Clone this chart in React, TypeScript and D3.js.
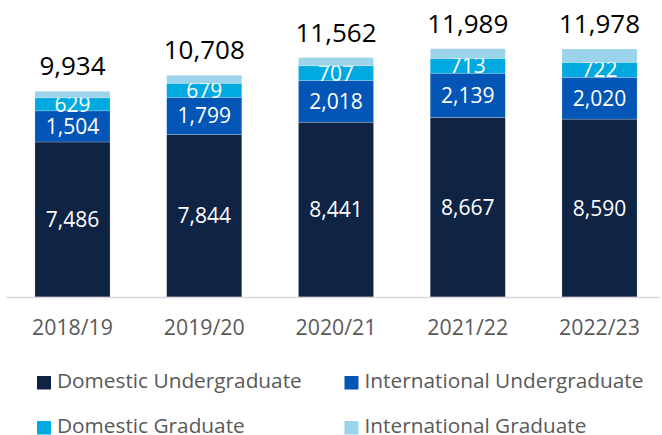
import React from "react";
import * as d3 from "d3";

const categories = ["2018/19", "2019/20", "2020/21", "2021/22", "2022/23"];
const seriesNames = ["Domestic Undergraduate", "International Undergraduate", "Domestic Graduate", "International Graduate"];
const domesticUG = [7486, 7844, 8441, 8667, 8590];
const internationalUG = [1504, 1799, 2018, 2139, 2020];
const domesticGrad = [629, 679, 707, 713, 722];
const internationalGrad = [315, 386, 396, 470, 646];
const totals = [9934, 10708, 11562, 11989, 11978];
const colors = ["#0f2344", "#0355b6", "#00a9e0", "#9bd3ea"];

const W = 662, H = 435;
const FONT = "'Open Sans', sans-serif";

export default function App() {
  const series = [domesticUG, internationalUG, domesticGrad, internationalGrad];
  const rows = categories.map((c, i) => {
    const r: any = { cat: c };
    seriesNames.forEach((s, k) => (r[s] = series[k][i]));
    return r;
  });
  const stacked = d3.stack().keys(seriesNames)(rows);
  const x = d3.scaleBand().domain(categories).range([6.6, 665.4]).paddingInner(0.43).paddingOuter(0.215);
  const y = d3.scaleLinear().domain([0, 12000]).range([297, 48.5]);
  const fmt = d3.format(",");

  const legend = [
    { x: 37, y: 376, ty: 388, k: 0 },
    { x: 344.5, y: 376, ty: 388, k: 1 },
    { x: 37, y: 421, ty: 433, k: 2 },
    { x: 344.5, y: 421, ty: 433, k: 3 },
  ];

  return (
    <svg width={W} height={H} style={{ position: "absolute", left: 0, top: 0, background: "#fff" }}>
      {stacked.map((layer, k) => (
        <g key={k}>
          {layer.map((d, i) => (
            <rect
              key={i}
              x={x(categories[i])}
              width={x.bandwidth()}
              y={y(d[1])}
              height={y(d[0]) - y(d[1])}
              fill={colors[k]}
              stroke="#ffffff"
              strokeOpacity={0.35}
              strokeWidth={0.6}
            />
          ))}
          {k < 3 &&
            layer.map((d, i) => (
              <text
                key={"t" + i}
                x={(x(categories[i]) as number) + x.bandwidth() / 2}
                y={(y(d[0]) + y(d[1])) / 2}
                dy="0.36em"
                textAnchor="middle"
                fill="#ffffff"
                fontFamily={FONT}
                fontSize={21}
              >
                {fmt(series[k][i])}
              </text>
            ))}
        </g>
      ))}
      {totals.map((t, i) => (
        <text
          key={i}
          x={(x(categories[i]) as number) + x.bandwidth() / 2}
          y={y(t) - 16}
          textAnchor="middle"
          fill="#000000"
          fontFamily={FONT}
          fontSize={26}
        >
          {fmt(t)}
        </text>
      ))}
      <line x1={6} x2={660} y1={297.5} y2={297.5} stroke="#d9d9d9" strokeWidth={1.5} />
      {categories.map((c, i) => (
        <text
          key={c}
          x={(x(c) as number) + x.bandwidth() / 2}
          y={335}
          textAnchor="middle"
          fill="#595959"
          fontFamily={FONT}
          fontSize={21.3}
        >
          {c}
        </text>
      ))}
      {legend.map((l) => (
        <g key={l.k}>
          <rect x={l.x} y={l.y} width={14} height={13.5} fill={colors[l.k]} />
          <text x={l.x + 20} y={l.ty} fill="#595959" fontFamily={FONT} fontSize={20.8}>
            {seriesNames[l.k]}
          </text>
        </g>
      ))}
    </svg>
  );
}
